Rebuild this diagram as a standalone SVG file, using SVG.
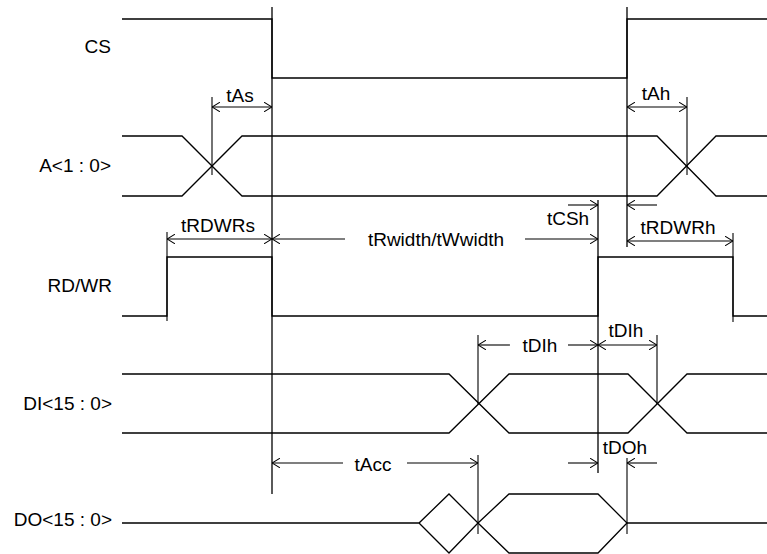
<svg xmlns="http://www.w3.org/2000/svg" width="767" height="554" viewBox="0 0 767 554">
<defs>
<marker id="ah" viewBox="0 0 10 12" refX="10" refY="6" markerWidth="8" markerHeight="10" markerUnits="userSpaceOnUse" orient="auto-start-reverse">
<path d="M0,0 L10,6 L0,12" fill="none" stroke="#000" stroke-width="1.3"/>
</marker>
<style>
.w{fill:none;stroke:#000;stroke-width:1.3}
.d{fill:none;stroke:#000;stroke-width:1.1}
.a{fill:none;stroke:#000;stroke-width:1.1;marker-end:url(#ah)}
.b{fill:none;stroke:#000;stroke-width:1.1;marker-start:url(#ah);marker-end:url(#ah)}
.lab{font-family:"Liberation Sans",Arial,sans-serif;font-size:19px;fill:#000;text-anchor:end}
.t{font-family:"Liberation Sans",Arial,sans-serif;font-size:19px;fill:#000;text-anchor:middle}
</style>
</defs>
<rect width="767" height="554" fill="#fff"/>
<g id="CS">
<text class="lab" x="111" y="53">CS</text>
<polyline class="w" points="122,19 272,19 272,78 627,78 627,19 767,19"/>
</g>
<g id="A">
<text class="lab" x="111" y="172">A&lt;1 : 0&gt;</text>
<polyline class="w" points="122,136 182,136 242,196 657,196 716,136 767,136"/>
<polyline class="w" points="122,196 182,196 242,136 657,136 716,196 767,196"/>
</g>
<g id="RDWR">
<text class="lab" x="112" y="292">RD/WR</text>
<polyline class="w" points="122,316 167,316 167,257 272,257 272,316 598,316 598,257 733,257 733,316 767,316"/>
</g>
<g id="DI">
<text class="lab" x="112" y="410">DI&lt;15 : 0&gt;</text>
<polyline class="w" points="122,374 449,374 509,433 628,433 687,374 767,374"/>
<polyline class="w" points="122,433 449,433 509,374 628,374 687,433 767,433"/>
</g>
<g id="DO">
<text class="lab" x="112" y="526">DO&lt;15 : 0&gt;</text>
<polyline class="w" points="122,523 419,523 449,494 478,523 449,553 419,523"/>
<polygon class="w" points="478,523 509,494 598,494 627,523 598,553 509,553"/>
<line class="w" x1="627" y1="523" x2="767" y2="523"/>
</g>
<g id="connectors">
<line class="w" x1="272" y1="7" x2="272" y2="494"/>
<line class="w" x1="627" y1="7" x2="627" y2="247"/>
<line class="w" x1="598" y1="200" x2="598" y2="473"/>
<line class="d" x1="212" y1="97" x2="212" y2="175"/>
<line class="d" x1="687" y1="97" x2="687" y2="175"/>
<line class="d" x1="167" y1="232" x2="167" y2="321"/>
<line class="d" x1="733" y1="233" x2="733" y2="322"/>
<line class="d" x1="478" y1="335" x2="478" y2="404"/>
<line class="d" x1="478" y1="455" x2="478" y2="534"/>
<line class="d" x1="657" y1="335" x2="657" y2="404"/>
<line class="d" x1="627" y1="458" x2="627" y2="534"/>
<line class="b" x1="212" y1="107" x2="272" y2="107"/>
<text class="t" x="240" y="102">tAs</text>
<line class="b" x1="627" y1="107" x2="687" y2="107"/>
<text class="t" x="656" y="100">tAh</text>
<line class="b" x1="167" y1="239" x2="272" y2="239"/>
<text class="t" x="218" y="232">tRDWRs</text>
<line class="a" x1="345" y1="239" x2="272" y2="239"/>
<line class="a" x1="525" y1="239" x2="598" y2="239"/>
<text class="t" x="436" y="246">tRwidth/tWwidth</text>
<line class="a" x1="568" y1="205" x2="598" y2="205"/>
<line class="a" x1="657" y1="205" x2="627" y2="205"/>
<text class="t" x="568" y="225">tCSh</text>
<line class="b" x1="627" y1="241" x2="733" y2="241"/>
<text class="t" x="678" y="234">tRDWRh</text>
<line class="a" x1="510" y1="345" x2="478" y2="345"/>
<line class="a" x1="568" y1="345" x2="598" y2="345"/>
<text class="t" x="540" y="352">tDIh</text>
<line class="b" x1="598" y1="345" x2="657" y2="345"/>
<text class="t" x="626" y="337">tDIh</text>
<line class="a" x1="343" y1="463" x2="272" y2="463"/>
<line class="a" x1="407" y1="463" x2="478" y2="463"/>
<text class="t" x="373" y="471">tAcc</text>
<line class="a" x1="568" y1="463" x2="598" y2="463"/>
<line class="a" x1="657" y1="463" x2="627" y2="463"/>
<text class="t" x="625" y="454">tDOh</text>
</g>
</svg>
